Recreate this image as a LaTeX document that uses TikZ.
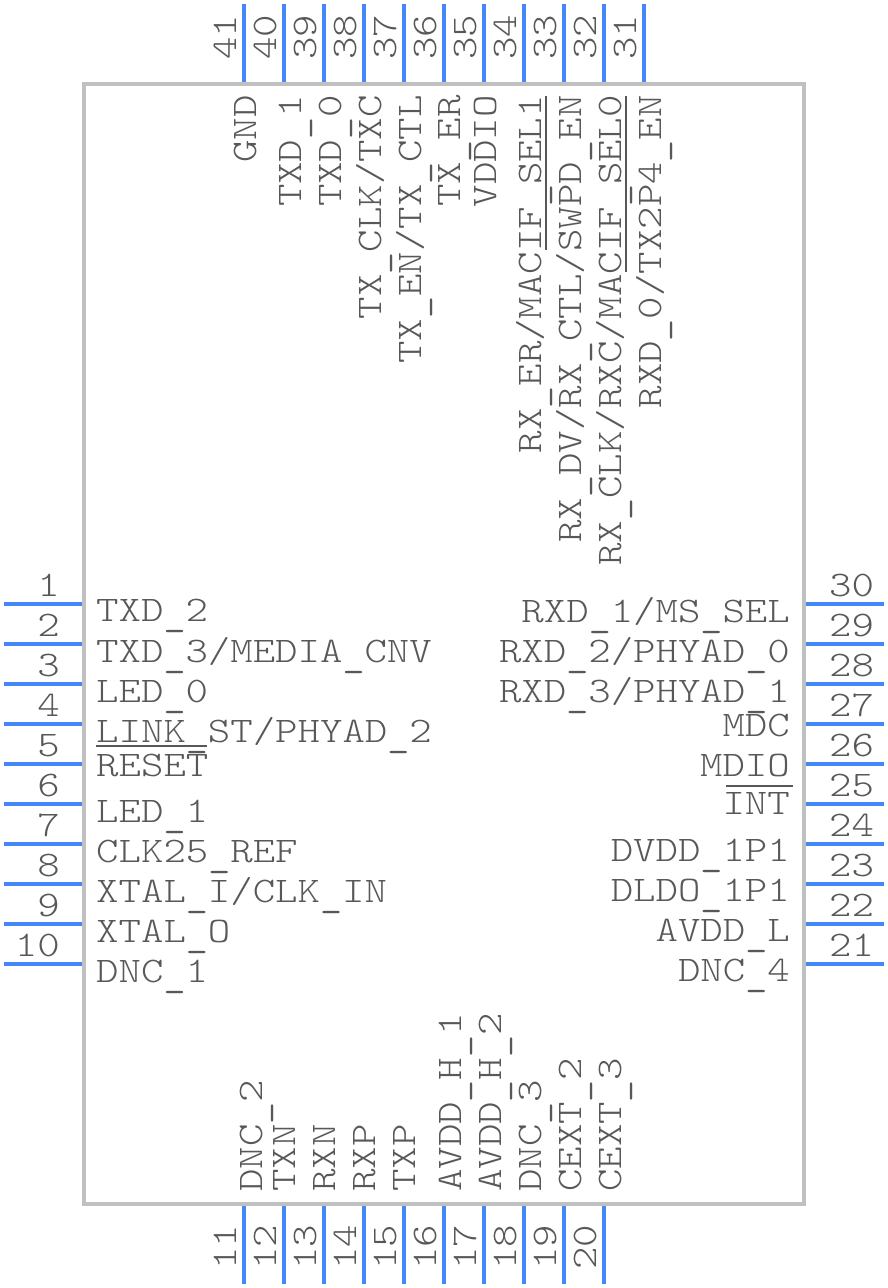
\documentclass[tikz,border=0pt]{standalone}
\usepackage{fontspec}
\newfontfamily\pinfont{Latin Modern Mono Light}[FakeStretch=1.187]
\newfontfamily\barfont{Latin Modern Mono}[FakeStretch=1.187]
\newcommand\us{\raisebox{-4.5pt}{\barfont\_}}
\definecolor{pinblue}{RGB}{68,136,248}
\definecolor{boxgray}{RGB}{192,192,192}
\definecolor{txtgray}{RGB}{88,88,88}
\tikzset{
  pinline/.style={draw=pinblue,line width=4pt},
  boxline/.style={draw=boxgray,line width=4pt,fill=none},
  lab/.style={text=txtgray,inner sep=0pt,font=\pinfont\fontsize{36}{36}\selectfont},
  barline/.style={draw=txtgray,line width=1.6pt}
}
\newcommand\lL[3]{\node[lab,anchor=base west] (#1) at (96,#2) {#3};}
\newcommand\lR[3]{\node[lab,anchor=base east] (#1) at (790,#2) {#3};}
\newcommand\lT[3]{\node[lab,anchor=base east,rotate=90] (#1) at (#2,95) {#3};}
\newcommand\lB[3]{\node[lab,anchor=base west,rotate=90] (#1) at (#2,1192) {#3};}
\begin{document}
\begin{tikzpicture}[x=1pt,y=-1pt]
\useasboundingbox (0,0) rectangle (888,1288);
% pins
\foreach \n/\y in {1/604,2/644,3/684,4/724,5/764,6/804,7/844,8/884,9/924,10/964}{
  \coordinate (pL\n a) at (84,\y); \coordinate (pL\n b) at (4,\y);
  \draw[pinline] (pL\n a) -- (pL\n b);
  \node[lab,anchor=base east] (numL\n) at (60,\y-8) {\n};
}
\foreach \n/\y in {30/604,29/644,28/684,27/724,26/764,25/804,24/844,23/884,22/924,21/964}{
  \coordinate (pR\n a) at (804,\y); \coordinate (pR\n b) at (884,\y);
  \draw[pinline] (pR\n a) -- (pR\n b);
  \node[lab,anchor=base west] (numR\n) at (829,\y-8) {\n};
}
\foreach \n/\x in {41/244,40/284,39/324,38/364,37/404,36/444,35/484,34/524,33/564,32/604,31/644}{
  \coordinate (pT\n a) at (\x,84); \coordinate (pT\n b) at (\x,4);
  \draw[pinline] (pT\n a) -- (pT\n b);
  \node[lab,anchor=base west,rotate=90] (numT\n) at (\x-8,60) {\n};
}
\foreach \n/\x in {11/244,12/284,13/324,14/364,15/404,16/444,17/484,18/524,19/564,20/604}{
  \coordinate (pB\n a) at (\x,1204); \coordinate (pB\n b) at (\x,1284);
  \draw[pinline] (pB\n a) -- (pB\n b);
  \node[lab,anchor=base west,rotate=90] (numB\n) at (\x-8,1270) {\n};
}
% body
\draw[boxline] (84,84) rectangle (804,1204);
% left labels
\lL{a1}{621}{TXD\us 2}
\lL{a2}{662}{TXD\us 3/MEDIA\us CNV}
\lL{a3}{702}{LED\us 0}
\lL{a4}{742}{LINK\us ST/PHYAD\us 2}
\lL{a5}{776}{RESET}
\lL{a6}{822}{LED\us 1}
\lL{a7}{862}{CLK25\us REF}
\lL{a8}{902}{XTAL\us I/CLK\us IN}
\lL{a9}{942}{XTAL\us O}
\lL{a10}{982}{DNC\us 1}
% right labels
\lR{a30}{622}{RXD\us 1/MS\us SEL}
\lR{a29}{662}{RXD\us 2/PHYAD\us 0}
\lR{a28}{702}{RXD\us 3/PHYAD\us 1}
\lR{a27}{736}{MDC}
\lR{a26}{776}{MDIO}
\lR{a25}{814}{INT}
\lR{a24}{861}{DVDD\us 1P1}
\lR{a23}{901}{DLDO\us 1P1}
\lR{a22}{941}{AVDD\us L}
\lR{a21}{981}{DNC\us 4}
% top labels
\lT{a41}{256}{GND}
\lT{a40}{301}{TXD\us 1}
\lT{a39}{341}{TXD\us 0}
\lT{a38}{381}{TX\us CLK/TXC}
\lT{a37}{421}{TX\us EN/TX\us CTL}
\lT{a36}{460}{TX\us ER}
\lT{a35}{496}{VDDIO}
\lT{a34}{541}{RX\us ER/MACIF\us SEL1}
\lT{a33}{581}{RX\us DV/RX\us CTL/SWPD\us EN}
\lT{a32}{621}{RX\us CLK/RXC/MACIF\us SEL0}
\lT{a31}{661}{RXD\us 0/TX2P4\us EN}
% bottom labels
\lB{a11}{262}{DNC\us 2}
\lB{a12}{295}{TXN}
\lB{a13}{335}{RXN}
\lB{a14}{375}{RXP}
\lB{a15}{415}{TXP}
\lB{a16}{461}{AVDD\us H\us 1}
\lB{a17}{501}{AVDD\us H\us 2}
\lB{a18}{541}{DNC\us 3}
\lB{a19}{581}{CEXT\us 2}
\lB{a20}{621}{CEXT\us 3}
% overbars
\draw[barline] (96,745.7) -- (207,745.7);
\draw[barline] (726,785.7) -- (793,785.7);
\draw[barline] (545.7,96) -- (545.7,250);
\draw[barline] (625.7,96) -- (625.7,272);
\end{tikzpicture}
\end{document}
